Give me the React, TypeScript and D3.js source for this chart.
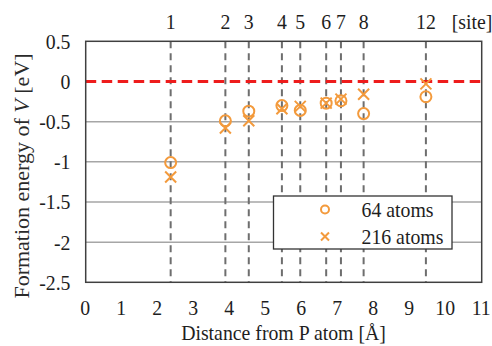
import React, { useEffect, useRef } from 'react';
import * as d3 from 'd3';

// site numbers and their distance from the P atom (Å)
const sites = ['1', '2', '3', '4', '5', '6', '7', '8', '12'];
const distances = [2.36, 3.88, 4.53, 5.45, 5.96, 6.68, 7.09, 7.72, 9.45];
const energy64 = [-1.01, -0.49, -0.37, -0.3, -0.36, -0.27, -0.24, -0.4, -0.19];
const energy216 = [-1.19, -0.58, -0.49, -0.34, -0.31, -0.27, -0.22, -0.16, -0.03];
const xTicks = [0, 1, 2, 3, 4, 5, 6, 7, 8, 9, 10, 11];
const yTicks = [0.5, 0, -0.5, -1, -1.5, -2, -2.5];
const seriesNames = ['64 atoms', '216 atoms'];

const ORANGE = '#f39a3c';
const FONT = 'Liberation Serif, DejaVu Serif, serif';
const FS = 22;
const SQUASH = 0.9; // the original picture is a bit narrow horizontally

function App() {
  const svgRef = useRef(null);

  useEffect(() => {
    document.body.style.margin = '0';
    const width = 492;
    const height = 346;
    const margin = { top: 41.3, right: 10.3, bottom: 63.7, left: 85.7 };

    const svg = d3.select(svgRef.current);
    svg.selectAll('*').remove();
    svg.attr('width', width).attr('height', height)
      .attr('font-family', FONT);

    const x = d3.scaleLinear().domain([0, 11]).range([margin.left, width - margin.right]);
    const y = d3.scaleLinear().domain([-2.5, 0.5]).range([height - margin.bottom, margin.top]);

    svg.append('rect').attr('width', width).attr('height', height).attr('fill', '#fff');

    // horizontal text, squashed like the source image
    const label = (parent, tx, ty, txt, anchor) => {
      parent.append('g')
        .attr('transform', `translate(${tx},${ty}) scale(${SQUASH},1)`)
        .append('text')
        .attr('text-anchor', anchor)
        .attr('font-size', FS)
        .attr('fill', '#1e1e1e')
        .text(txt);
    };

    // horizontal gridlines
    svg.append('g')
      .selectAll('line')
      .data(yTicks.filter(d => d < 0 && d > -2.5))
      .enter()
      .append('line')
      .attr('x1', x(0))
      .attr('x2', x(11))
      .attr('y1', d => y(d))
      .attr('y2', d => y(d))
      .attr('stroke', '#a6a6a6')
      .attr('stroke-width', 1.5);

    // site dashed lines
    svg.append('g')
      .selectAll('line')
      .data(distances)
      .enter()
      .append('line')
      .attr('x1', d => x(d))
      .attr('x2', d => x(d))
      .attr('y1', y(0.5))
      .attr('y2', y(-2.5))
      .attr('stroke', '#6e6e6e')
      .attr('stroke-width', 2)
      .attr('stroke-dasharray', '7,5');

    // zero line
    svg.append('line')
      .attr('x1', x(0))
      .attr('x2', x(11))
      .attr('y1', y(0))
      .attr('y2', y(0))
      .attr('stroke', '#ee1c1c')
      .attr('stroke-width', 3)
      .attr('stroke-dasharray', '10.5,5.5');

    // frame
    svg.append('rect')
      .attr('x', x(0))
      .attr('y', y(0.5))
      .attr('width', x(11) - x(0))
      .attr('height', y(-2.5) - y(0.5))
      .attr('fill', 'none')
      .attr('stroke', '#404040')
      .attr('stroke-width', 1.5);

    // y tick labels
    const yAx = svg.append('g');
    yTicks.forEach(d => label(yAx, 70.5, y(d) + 7.5, String(d), 'end'));

    // x tick labels
    const xAx = svg.append('g');
    xTicks.forEach(d => label(xAx, x(d) - 0.5, 315, String(d), 'middle'));

    // site labels on top
    const top = svg.append('g');
    sites.forEach((s, i) => label(top, x(distances[i]), 28.5, s, 'middle'));
    label(top, 472, 28.5, '[site]', 'middle');

    // axis titles
    label(svg, 283.5, 340, 'Distance from P atom [Å]', 'middle');

    const yTitle = svg.append('text')
      .attr('transform', `translate(29, 176) rotate(-90)`)
      .attr('text-anchor', 'middle')
      .attr('font-size', FS)
      .attr('fill', '#2a2a2a');
    yTitle.append('tspan').text('Formation energy of ');
    yTitle.append('tspan').attr('font-style', 'italic').text('V');
    yTitle.append('tspan').text(' [eV]');

    const crossPath = (cx, cy, s) => `M${cx - s},${cy - s}L${cx + s},${cy + s}M${cx - s},${cy + s}L${cx + s},${cy - s}`;

    // 216 atoms
    svg.append('g')
      .selectAll('path')
      .data(energy216)
      .enter()
      .append('path')
      .attr('d', (d, i) => crossPath(x(distances[i]), y(d), 5.5))
      .attr('stroke', ORANGE)
      .attr('stroke-width', 2)
      .attr('fill', 'none');

    // 64 atoms
    svg.append('g')
      .selectAll('circle')
      .data(energy64)
      .enter()
      .append('circle')
      .attr('cx', (d, i) => x(distances[i]))
      .attr('cy', d => y(d))
      .attr('r', 5.5)
      .attr('stroke', ORANGE)
      .attr('stroke-width', 2)
      .attr('fill', 'none');

    // legend
    const legend = svg.append('g');
    legend.append('rect')
      .attr('x', 273.5)
      .attr('y', 196)
      .attr('width', 178.5)
      .attr('height', 53)
      .attr('fill', '#fff')
      .attr('stroke', '#333')
      .attr('stroke-width', 1.3);
    legend.append('circle')
      .attr('cx', 325)
      .attr('cy', 209.5)
      .attr('r', 4)
      .attr('stroke', ORANGE)
      .attr('stroke-width', 2)
      .attr('fill', 'none');
    legend.append('path')
      .attr('d', crossPath(325, 236.5, 4))
      .attr('stroke', ORANGE)
      .attr('stroke-width', 2)
      .attr('fill', 'none');
    seriesNames.forEach((s, i) => label(legend, 361.5, 216.5 + i * 27, s, 'start'));
  }, []);

  return (
    <div style={{ width: 492, height: 346 }}>
      <svg ref={svgRef} style={{ display: 'block' }} />
    </div>
  );
}

export default App;
